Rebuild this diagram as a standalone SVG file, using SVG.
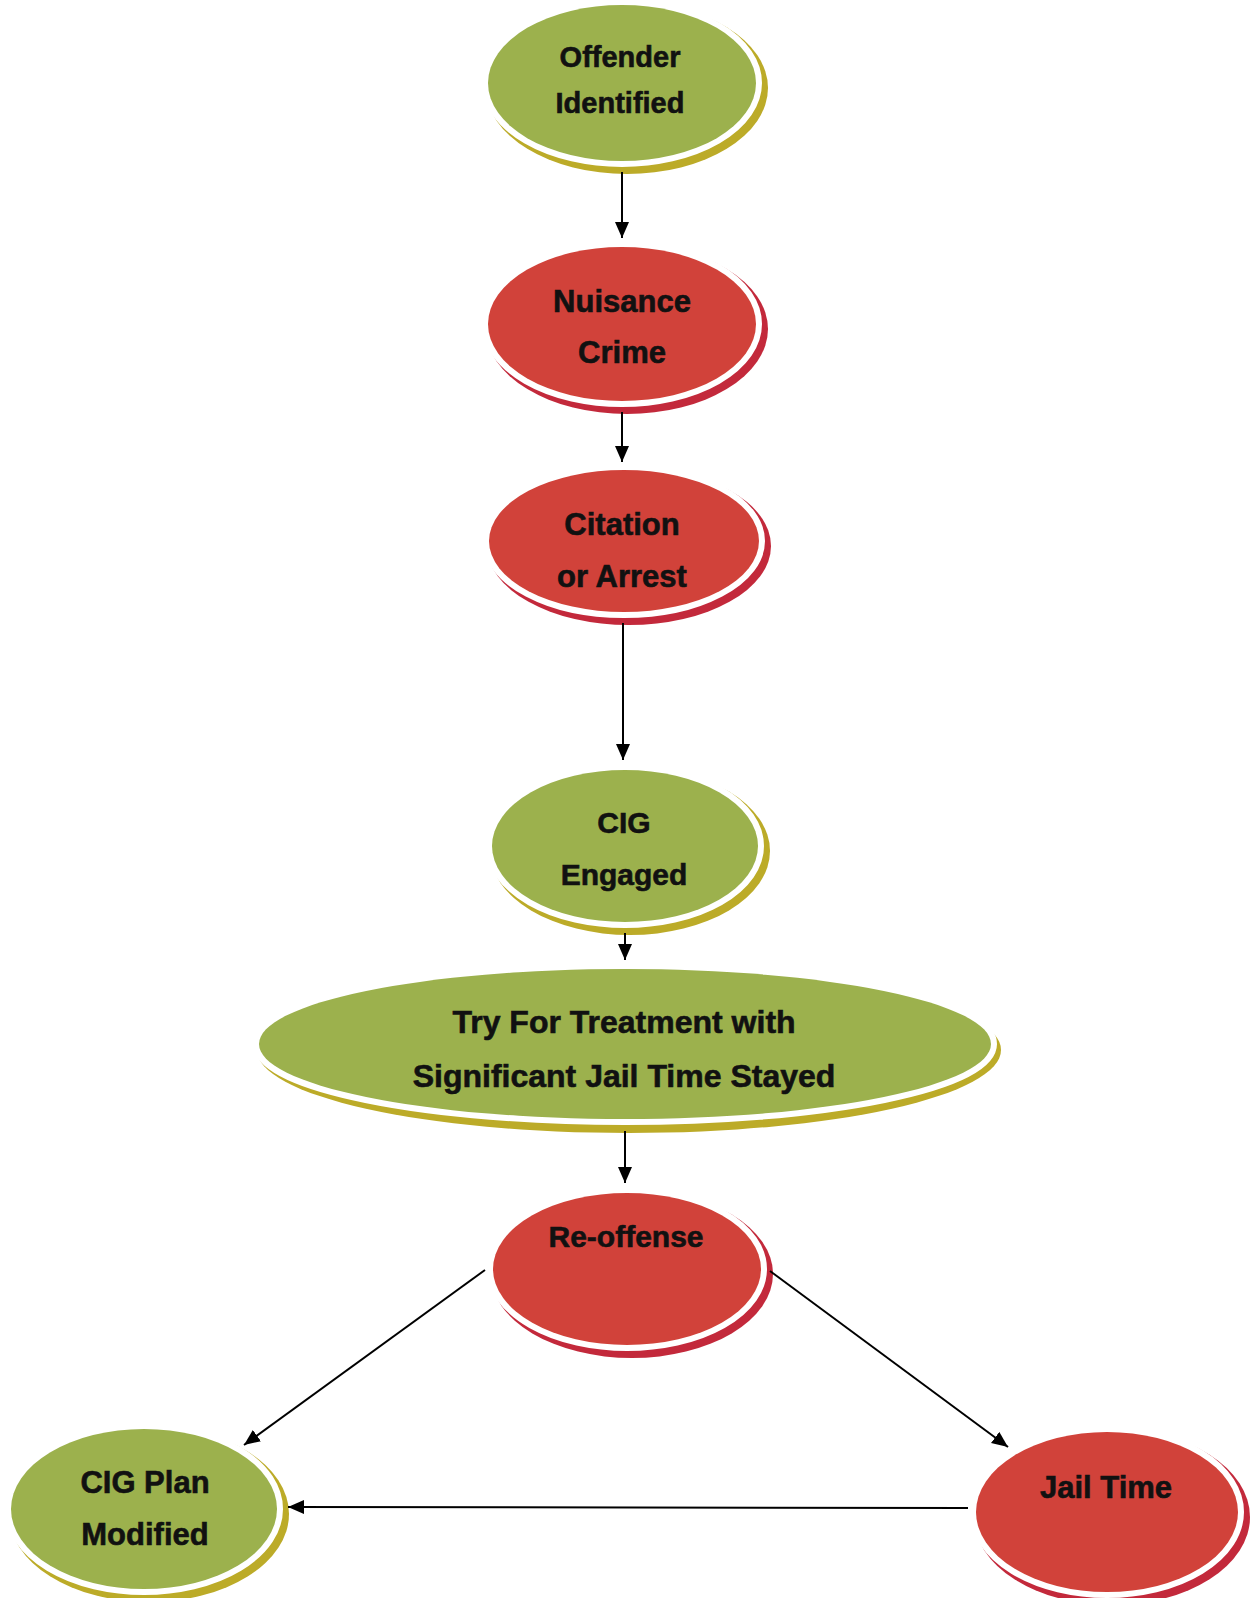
<svg xmlns="http://www.w3.org/2000/svg" width="1254" height="1598" viewBox="0 0 1254 1598">
<style>
.g{fill:#9cb14d;stroke:#fff;stroke-width:12;paint-order:stroke}
.r{fill:#d1423a;stroke:#fff;stroke-width:12;paint-order:stroke}
.gr{fill:#bcab28}
.rr{fill:#c3293b}
text{font-family:"Liberation Sans",Arial,sans-serif;font-weight:bold;fill:#111;stroke:#111;stroke-width:0.6;text-anchor:middle}
.c{stroke:#000;stroke-width:2;fill:none;marker-end:url(#ah)}
</style>
<defs>
<marker id="ah" markerUnits="userSpaceOnUse" markerWidth="17" markerHeight="15" refX="16" refY="7" orient="auto">
<path d="M0,0 L16,7 L0,14 z" fill="#000"/>
</marker>
</defs>
<rect width="1254" height="1598" fill="#fff"/>
<g id="nodes">
<g id="n1">
<ellipse class="gr" cx="627" cy="88" rx="141" ry="86"/>
<ellipse class="g" cx="622" cy="83" rx="134" ry="78"/>
<text x="620" y="67" font-size="29">Offender</text>
<text x="620" y="113" font-size="29">Identified</text>
</g>
<g id="n2">
<ellipse class="rr" cx="627" cy="329" rx="141" ry="85"/>
<ellipse class="r" cx="622" cy="324" rx="134" ry="77"/>
<text x="622" y="312" font-size="31">Nuisance</text>
<text x="622" y="363" font-size="31">Crime</text>
</g>
<g id="n3">
<ellipse class="rr" cx="629" cy="546" rx="142" ry="79"/>
<ellipse class="r" cx="624" cy="541" rx="135" ry="71"/>
<text x="622" y="535" font-size="31">Citation</text>
<text x="622" y="587" font-size="31">or Arrest</text>
</g>
<g id="n4">
<ellipse class="gr" cx="630" cy="851" rx="140" ry="84"/>
<ellipse class="g" cx="625" cy="846" rx="133" ry="76"/>
<text x="624" y="833" font-size="30">CIG</text>
<text x="624" y="885" font-size="30">Engaged</text>
</g>
<g id="n5">
<ellipse class="gr" cx="629" cy="1050" rx="372" ry="83"/>
<ellipse class="g" cx="625" cy="1044" rx="366" ry="75"/>
<text x="624" y="1033" font-size="32">Try For Treatment with</text>
<text x="624" y="1087" font-size="32">Significant Jail Time Stayed</text>
</g>
<g id="n6">
<ellipse class="rr" cx="632" cy="1274" rx="141" ry="84"/>
<ellipse class="r" cx="627" cy="1269" rx="134" ry="76"/>
<text x="626" y="1247" font-size="30">Re-offense</text>
</g>
<g id="n7">
<ellipse class="gr" cx="149" cy="1514" rx="140" ry="88"/>
<ellipse class="g" cx="144" cy="1509" rx="133" ry="80"/>
<text x="145" y="1493" font-size="31">CIG Plan</text>
<text x="145" y="1545" font-size="31">Modified</text>
</g>
<g id="n8">
<ellipse class="rr" cx="1112" cy="1517" rx="138" ry="88"/>
<ellipse class="r" cx="1107" cy="1512" rx="131" ry="80"/>
<text x="1106" y="1498" font-size="31">Jail Time</text>
</g>
</g>
<g id="connectors">
<line class="c" x1="622" y1="172" x2="622" y2="238"/>
<line class="c" x1="622" y1="412" x2="622" y2="462"/>
<line class="c" x1="623" y1="623" x2="623" y2="760"/>
<line class="c" x1="625" y1="933" x2="625" y2="960"/>
<line class="c" x1="625" y1="1131" x2="625" y2="1183"/>
<line class="c" x1="485" y1="1270" x2="244" y2="1445"/>
<line class="c" x1="770" y1="1271" x2="1008" y2="1447"/>
<line class="c" x1="968" y1="1508" x2="288" y2="1507"/>
</g>
</svg>
